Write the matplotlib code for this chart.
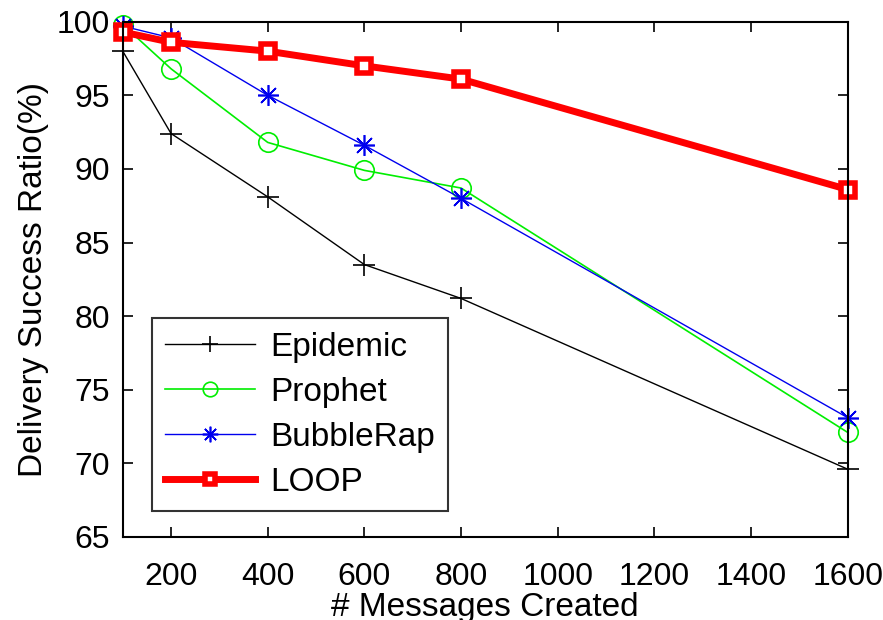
import matplotlib.pyplot as plt

plt.rcParams['font.family'] = ['Liberation Sans', 'DejaVu Sans']

# messages created vs delivery success ratio (%)
messages = [100, 200, 400, 600, 800, 1600]
epidemic = [98.0, 92.4, 88.1, 83.5, 81.2, 69.6]
prophet = [99.8, 96.8, 91.8, 89.9, 88.7, 72.1]
bubblerap = [99.7, 98.9, 95.0, 91.6, 88.0, 73.1]
loop = [99.3, 98.6, 98.0, 97.0, 96.1, 88.6]

xticks = [200, 400, 600, 800, 1000, 1200, 1400, 1600]
yticks = [65, 70, 75, 80, 85, 90, 95, 100]

fig = plt.figure(figsize=(8.83, 6.2), dpi=100)
ax = fig.add_axes([0.139, 0.134, 0.821, 0.831])

kw = dict(clip_on=False)
ax.plot(messages, epidemic, color='black', lw=1, marker='+', ms=16, mew=1.2, label='Epidemic', **kw)
ax.plot(messages, prophet, color='#00ee00', lw=1.2, marker='o', ms=14, mfc='none', mew=1.2, label='Prophet', **kw)
ax.plot(messages, bubblerap, color='#0000ee', lw=1, marker=(8, 2, 0), ms=15, mew=1.2, label='BubbleRap', **kw)
ax.plot(messages, loop, color='red', lw=5, marker='s', ms=10, mfc='white', mew=4, label='LOOP', **kw)

ax.set_xlim(100, 1600)
ax.set_ylim(65, 100)
ax.set_xticks(xticks)
ax.set_yticks(yticks)
ax.tick_params(direction='in', length=7, width=1.2, top=True, right=True, labelsize=23, pad=9)
ax.tick_params(axis='x', pad=18)
for s in ax.spines.values():
    s.set_linewidth(1.5)

ax.set_xlabel('# Messages Created', fontsize=24, labelpad=0)
ax.set_ylabel('Delivery Success Ratio(%)', fontsize=24, labelpad=6)

leg = ax.legend(loc='lower left', bbox_to_anchor=(0.04, 0.05), fontsize=24, frameon=True,
                fancybox=False, edgecolor='black', handlelength=2.7, borderpad=0.4,
                labelspacing=0.42, handletextpad=0.45, markerscale=0.75, borderaxespad=0)
leg.get_frame().set_linewidth(1.5)

fig.savefig('out.png', dpi=100)
